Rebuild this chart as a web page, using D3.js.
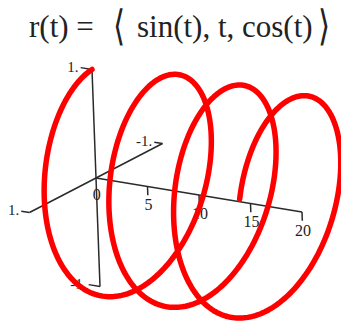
<!DOCTYPE html>
<html>
<head>
<meta charset="utf-8">
<script src="https://cdn.jsdelivr.net/npm/d3@7"></script>
<style>
  html, body { margin: 0; padding: 0; background: #fff; }
  svg { display: block; }
  text { font-family: "Liberation Serif", "Times New Roman", serif; fill: #222; }
</style>
</head>
<body>
<svg id="chart" width="341" height="323"></svg>
<script>
// Parameter range of the space curve r(t) = <sin t, t, cos t>
const tDomain = [0, 20];
const sampleCount = 800;

// Axis extents and ticks
const xAxisEnds = [1, -1];          // sin(t) axis
const zAxisEnds = [1, -1];          // cos(t) axis
const tTicks = [5, 10, 15, 20];     // t axis
const xTickLabels = ["1.", "-1."];
const zTickLabels = ["1.", "-1."];
const tTickLabels = ["5", "10", "15", "20"];
const originLabel = "0";

const svg = d3.select("#chart");

// Oblique 3D projection: each world axis contributes a linear screen offset.
const origin = [96, 178];
const xToPx = { x: d3.scaleLinear().domain([0, 1]).range([0, -66.5]),
                y: d3.scaleLinear().domain([0, 1]).range([0, 34.5]) };
const tToPx = { x: d3.scaleLinear().domain([0, 1]).range([0, 10.3]),
                y: d3.scaleLinear().domain([0, 1]).range([0, 1.7]) };
const zToPx = { x: d3.scaleLinear().domain([0, 1]).range([0, -4]),
                y: d3.scaleLinear().domain([0, 1]).range([0, -108.5]) };

function project(x, t, z) {
  return [
    origin[0] + xToPx.x(x) + tToPx.x(t) + zToPx.x(z),
    origin[1] + xToPx.y(x) + tToPx.y(t) + zToPx.y(z)
  ];
}

const axisG = svg.append("g")
  .attr("stroke", "#2a2a2a")
  .attr("stroke-width", 1.5)
  .attr("fill", "none");

const seg = (a, b) => d3.line()([a, b]);

// Axis lines
axisG.append("path").attr("d", seg(project(xAxisEnds[0], 0, 0), project(xAxisEnds[1], 0, 0)));
axisG.append("path").attr("d", seg(project(0, 0, zAxisEnds[0]), project(0, 0, zAxisEnds[1])));
axisG.append("path").attr("d", seg(project(0, tDomain[0], 0), project(0, tDomain[1], 0)));

// End ticks on x and z axes point back along -t
xAxisEnds.forEach(v => {
  axisG.append("path").attr("d", seg(project(v, 0, 0), project(v, -0.8, 0)));
});
zAxisEnds.forEach(v => {
  axisG.append("path").attr("d", seg(project(0, 0, v), project(0, -1.1, v)));
});
// t ticks hang downward along -z
tTicks.forEach(v => {
  axisG.append("path").attr("d", seg(project(0, v, 0), project(0, v, -0.08)));
});

// Labels
const labelG = svg.append("g").attr("font-size", 15);

xAxisEnds.forEach((v, i) => {
  const p = project(v, -1.0, 0);
  labelG.append("text").attr("x", p[0]).attr("y", p[1] + 4)
    .attr("text-anchor", "end").text(xTickLabels[i]);
});
zAxisEnds.forEach((v, i) => {
  const p = project(0, -1.3, v);
  labelG.append("text").attr("x", p[0]).attr("y", p[1] + 5)
    .attr("text-anchor", "end").text(zTickLabels[i]);
});
tTicks.forEach((v, i) => {
  const p = project(0, v, -0.22);
  labelG.append("text").attr("x", p[0]).attr("y", p[1])
    .attr("text-anchor", "middle").attr("font-size", 16).text(tTickLabels[i]);
});
{
  const p = project(0, 0, -0.2);
  labelG.append("text").attr("x", p[0]).attr("y", p[1])
    .attr("text-anchor", "middle").attr("font-size", 16).text(originLabel);
}

// The helix
const tValues = d3.range(sampleCount + 1).map(i => tDomain[0] + (tDomain[1] - tDomain[0]) * i / sampleCount);
const helixPoints = tValues.map(t => project(Math.sin(t), t, Math.cos(t)));
svg.append("path")
  .attr("d", d3.line().curve(d3.curveLinear)(helixPoints))
  .attr("fill", "none")
  .attr("stroke", "#ff0000")
  .attr("stroke-width", 5.5)
  .attr("stroke-linecap", "round")
  .attr("stroke-linejoin", "round");

// Title
const title = svg.append("g").attr("font-size", 31);
title.append("text").attr("x", 29).attr("y", 37).attr("fill", "#111").text("r(t) =");
title.append("text").attr("x", 137).attr("y", 37).attr("fill", "#111").text("sin(t), t, cos(t)");
title.append("text").attr("x", 113).attr("y", 40).attr("fill", "#111")
  .attr("font-family", "DejaVu Sans").attr("font-weight", 200)
  .attr("transform", "translate(113,40) scale(1,1.35) translate(-113,-40)")
  .text("⟨");
title.append("text").attr("x", 318).attr("y", 40).attr("fill", "#111")
  .attr("font-family", "DejaVu Sans").attr("font-weight", 200)
  .attr("transform", "translate(318,40) scale(1,1.35) translate(-318,-40)")
  .text("⟩");
</script>
</body>
</html>
